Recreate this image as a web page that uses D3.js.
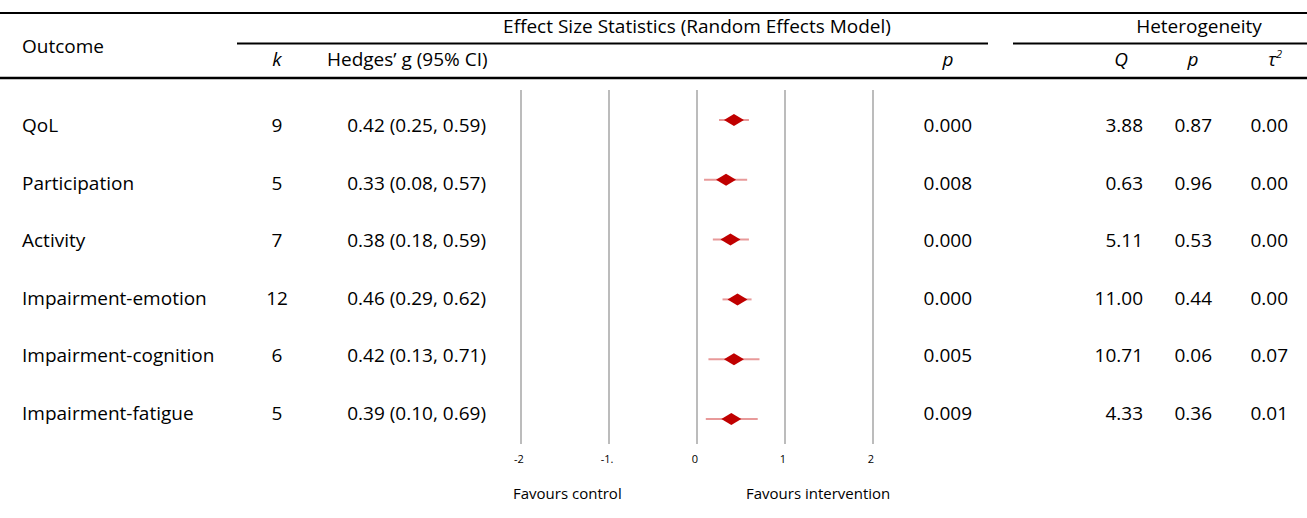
<!DOCTYPE html>
<html>
<head>
<meta charset="utf-8">
<script src="https://cdn.jsdelivr.net/npm/d3@7"></script>
<style>
  html, body { margin: 0; padding: 0; background: #fff; }
  svg { display: block; font-family: "Open Sans", Lato, sans-serif; }
</style>
</head>
<body>
<svg id="chart" width="1307" height="518"></svg>
<script>
// ---- data ----
const outcomes = ["QoL", "Participation", "Activity", "Impairment-emotion", "Impairment-cognition", "Impairment-fatigue"];
const kValues = [9, 5, 7, 12, 6, 5];
const hedgesG = [0.42, 0.33, 0.38, 0.46, 0.42, 0.39];
const ciLower = [0.25, 0.08, 0.18, 0.29, 0.13, 0.10];
const ciUpper = [0.59, 0.57, 0.59, 0.62, 0.71, 0.69];
const pValues = ["0.000", "0.008", "0.000", "0.000", "0.005", "0.009"];
const qValues = ["3.88", "0.63", "5.11", "11.00", "10.71", "4.33"];
const hetP = ["0.87", "0.96", "0.53", "0.44", "0.06", "0.36"];
const tau2 = ["0.00", "0.00", "0.00", "0.00", "0.07", "0.01"];
const tickValues = [-2, -1, 0, 1, 2];
const tickLabels = ["-2", "-1.", "0", "1", "2"];

const svg = d3.select("#chart");
const W = 1307;

// scales
const x = d3.scaleLinear().domain([-2, 2]).range([521, 873]);
const yText = d3.scalePoint().domain(outcomes).range([132, 420]);
const yMark = d3.scalePoint().domain(outcomes).range([120, 419]);

const fs = 19;

// header rules
svg.append("line").attr("x1", 0).attr("x2", W).attr("y1", 13).attr("y2", 13)
  .attr("stroke", "#000").attr("stroke-width", 2);
svg.append("line").attr("x1", 237).attr("x2", 988).attr("y1", 43.5).attr("y2", 43.5)
  .attr("stroke", "#000").attr("stroke-width", 2);
svg.append("line").attr("x1", 1013).attr("x2", W).attr("y1", 43.5).attr("y2", 43.5)
  .attr("stroke", "#000").attr("stroke-width", 2);
svg.append("line").attr("x1", 0).attr("x2", W).attr("y1", 78).attr("y2", 78)
  .attr("stroke", "#000").attr("stroke-width", 2.5);

// header texts
const hdr = svg.append("g").attr("font-size", fs).attr("fill", "#000");
hdr.append("text").attr("x", 22).attr("y", 53).text("Outcome");
hdr.append("text").attr("x", 697).attr("y", 33).attr("text-anchor", "middle")
  .text("Effect Size Statistics (Random Effects Model)");
hdr.append("text").attr("x", 1199).attr("y", 33).attr("text-anchor", "middle").text("Heterogeneity");
hdr.append("text").attr("x", 277).attr("y", 66).attr("text-anchor", "middle")
  .attr("font-style", "italic").text("k");
hdr.append("text").attr("x", 327).attr("y", 66).text("Hedges\u2019 g (95% CI)");
hdr.append("text").attr("x", 948).attr("y", 66).attr("text-anchor", "middle")
  .attr("font-style", "italic").text("p");
hdr.append("text").attr("x", 1121).attr("y", 66).attr("text-anchor", "middle")
  .attr("font-style", "italic").text("Q");
hdr.append("text").attr("x", 1193).attr("y", 66).attr("text-anchor", "middle")
  .attr("font-style", "italic").text("p");
const tauT = hdr.append("text").attr("x", 1268).attr("y", 66).attr("font-style", "italic");
tauT.append("tspan").text("\u03C4");
tauT.append("tspan").attr("font-size", 11).attr("dy", -8).text("2");

// gridlines
svg.append("g").selectAll("line").data(tickValues).join("line")
  .attr("x1", d => x(d)).attr("x2", d => x(d))
  .attr("y1", 90).attr("y2", 444)
  .attr("stroke", "#a6a6a6").attr("stroke-width", 1.5);

// tick labels
svg.append("g").selectAll("text").data(tickValues).join("text")
  .attr("x", d => x(d) - 2).attr("y", 463)
  .attr("text-anchor", "middle").attr("font-size", 11).attr("fill", "#000")
  .text((d, i) => tickLabels[i]);

// favours labels
svg.append("text").attr("x", 513).attr("y", 499).attr("font-size", 15).text("Favours control");
svg.append("text").attr("x", 746).attr("y", 499).attr("font-size", 15).text("Favours intervention");

// CI lines and diamonds
const marks = svg.append("g");
marks.selectAll("line").data(outcomes).join("line")
  .attr("x1", (d, i) => x(ciLower[i])).attr("x2", (d, i) => x(ciUpper[i]))
  .attr("y1", d => yMark(d)).attr("y2", d => yMark(d))
  .attr("stroke", "#e89a9a").attr("stroke-width", 2);
marks.selectAll("path").data(outcomes).join("path")
  .attr("d", (d, i) => {
    const cx = x(hedgesG[i]), cy = yMark(d);
    return `M${cx - 10},${cy} L${cx},${cy - 6} L${cx + 10},${cy} L${cx},${cy + 6} Z`;
  })
  .attr("fill", "#c00000");

// table rows
const rows = svg.append("g").attr("font-size", fs).attr("fill", "#000");
rows.selectAll("text.name").data(outcomes).join("text").attr("class", "name")
  .attr("x", 22).attr("y", d => yText(d)).text(d => d);
rows.selectAll("text.k").data(outcomes).join("text").attr("class", "k")
  .attr("x", 277).attr("y", d => yText(d)).attr("text-anchor", "middle")
  .text((d, i) => kValues[i]);
rows.selectAll("text.g").data(outcomes).join("text").attr("class", "g")
  .attr("x", 486).attr("y", d => yText(d)).attr("text-anchor", "end")
  .text((d, i) => `${hedgesG[i].toFixed(2)} (${ciLower[i].toFixed(2)}, ${ciUpper[i].toFixed(2)})`);
rows.selectAll("text.p").data(outcomes).join("text").attr("class", "p")
  .attr("x", 972).attr("y", d => yText(d)).attr("text-anchor", "end")
  .text((d, i) => pValues[i]);
rows.selectAll("text.q").data(outcomes).join("text").attr("class", "q")
  .attr("x", 1143).attr("y", d => yText(d)).attr("text-anchor", "end")
  .text((d, i) => qValues[i]);
rows.selectAll("text.hp").data(outcomes).join("text").attr("class", "hp")
  .attr("x", 1212).attr("y", d => yText(d)).attr("text-anchor", "end")
  .text((d, i) => hetP[i]);
rows.selectAll("text.t").data(outcomes).join("text").attr("class", "t")
  .attr("x", 1288).attr("y", d => yText(d)).attr("text-anchor", "end")
  .text((d, i) => tau2[i]);
</script>
</body>
</html>
